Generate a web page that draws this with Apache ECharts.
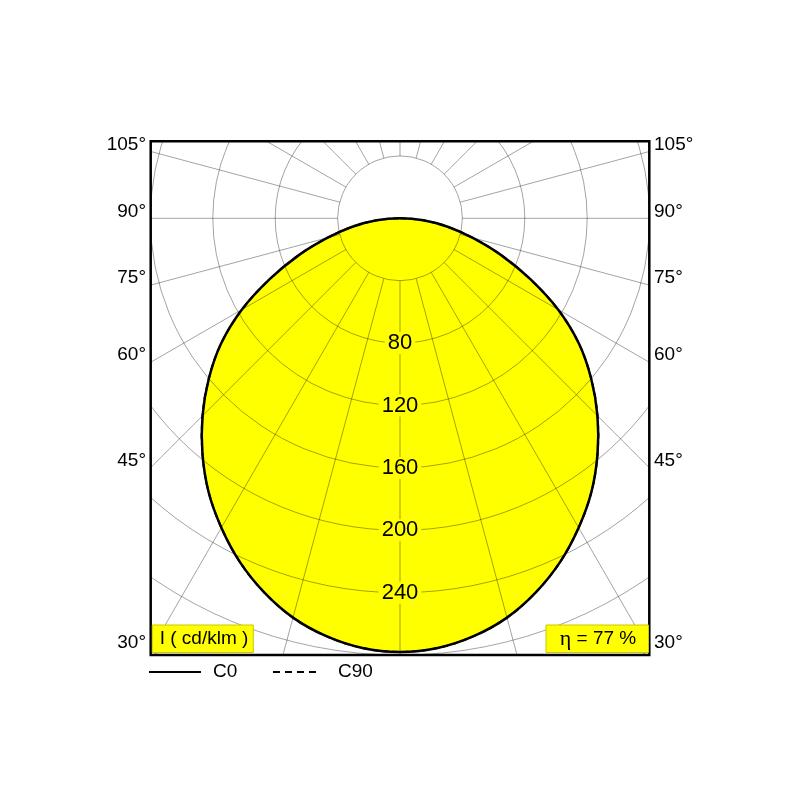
<!DOCTYPE html>
<html>
<head>
<meta charset="utf-8">
<script src="https://cdn.jsdelivr.net/npm/echarts@6/dist/echarts.min.js"></script>
<style>
html,body{margin:0;padding:0;background:#fff;}
#chart{width:800px;height:800px;}
</style>
</head>
<body>
<div id="chart"></div>
<script>
// ---- data (photometric angles from nadir, intensities in cd/klm) ----
const halfAngles = [0, 5, 10, 15, 20, 25, 30, 35, 40, 45, 50, 55, 60, 65, 70, 75, 80, 85, 90];
const c0Values  = [278, 276.5, 272, 265, 255, 243, 229, 214, 197, 179, 160, 140, 117, 92, 69, 48, 31, 15, 0];
const c90Values = [278, 276.5, 272, 265, 255, 243, 229, 214, 197, 179, 160, 140, 117, 92, 69, 48, 31, 15, 0];
const ringLabels = [80, 120, 160, 200, 240];
const edgeAngleTicks = [105, 90, 75, 60, 45, 30];
const legendNames = ['C0', 'C90'];
const unitLabel = 'I ( cd/klm )';
const efficiency = 77;

// ---- layout ----
const FONT = '"Liberation Sans", Arial, sans-serif';
const cx = 400, cy = 218.3;
const pxPerUnit = 1.56;
const rMax = 400;
const box = {l: 150.7, t: 141.2, r: 649.3, b: 655};
const gridColor = 'rgba(0,0,0,0.36)';

function mirrored(vals) {
  const out = [];
  for (let i = halfAngles.length - 1; i > 0; i--) out.push([vals[i], -halfAngles[i]]);
  for (let i = 0; i < halfAngles.length; i++) out.push([vals[i], halfAngles[i]]);
  return out;
}

// draws the whole closed curve once, converting each [intensity, angle] through the polar axes
function curveRenderer(data, style) {
  return function (params, api) {
    if (params.dataIndex !== 0) return null;
    const pts = data.map(d => api.coord(d));
    const a = pts[0], b = pts[pts.length - 1];
    if (Math.abs(a[0] - b[0]) < 0.01 && Math.abs(a[1] - b[1]) < 0.01) pts.pop();
    return {type: 'polygon', shape: {points: pts, smooth: 0.35}, style: style, silent: true};
  };
}

const c0Data = mirrored(c0Values);
const c90Data = mirrored(c90Values);

const chart = echarts.init(document.getElementById('chart'), null, {renderer: 'canvas'});

const graphics = [];
// masks outside the frame
[[0, 0, 800, box.t], [0, box.b, 800, 800 - box.b], [0, 0, box.l, 800], [box.r, 0, 800 - box.r, 800]]
  .forEach(r => graphics.push({type: 'rect', z: 100, shape: {x: r[0], y: r[1], width: r[2], height: r[3]}, style: {fill: '#fff'}}));
// frame
graphics.push({type: 'rect', z: 101, shape: {x: box.l, y: box.t, width: box.r - box.l, height: box.b - box.t},
  style: {fill: null, stroke: '#000', lineWidth: 2.5}});
// angle labels at frame edges
edgeAngleTicks.forEach(a => {
  const t = Math.tan(a * Math.PI / 180);
  const yl = cy + (cx - box.l) / t - 7;
  const yr = cy + (box.r - cx) / t - 7;
  graphics.push({type: 'text', z: 102, x: 146, y: yl, style: {text: a + '°', fontSize: 19, fontFamily: FONT, fill: '#000', align: 'right', verticalAlign: 'middle'}});
  graphics.push({type: 'text', z: 102, x: 654, y: yr, style: {text: a + '°', fontSize: 19, fontFamily: FONT, fill: '#000', align: 'left', verticalAlign: 'middle'}});
});
// yellow info boxes
graphics.push({type: 'rect', z: 102, shape: {x: 152.3, y: 625, width: 101, height: 27.5}, style: {fill: '#ffff00', stroke: '#c8c800', lineWidth: 1}});
graphics.push({type: 'text', z: 103, x: 204, y: 639, style: {text: unitLabel, fontSize: 19, fontFamily: FONT, fill: '#000', align: 'center', verticalAlign: 'middle'}});
graphics.push({type: 'rect', z: 102, shape: {x: 546, y: 625, width: 102.5, height: 27.5}, style: {fill: '#ffff00', stroke: '#c8c800', lineWidth: 1}});
graphics.push({type: 'text', z: 103, x: 598, y: 639, style: {
  text: '{e|η} = ' + efficiency + ' %', fontSize: 19, fontFamily: FONT, fill: '#000', align: 'center', verticalAlign: 'middle',
  rich: {e: {fontSize: 22, fontFamily: '"Liberation Serif", "Times New Roman", serif', fill: '#000'}}}});
// legend
graphics.push({type: 'line', z: 102, shape: {x1: 149, y1: 672, x2: 201, y2: 672}, style: {stroke: '#000', lineWidth: 2}});
graphics.push({type: 'text', z: 102, x: 213, y: 672, style: {text: legendNames[0], fontSize: 19, fontFamily: FONT, fill: '#000', align: 'left', verticalAlign: 'middle'}});
graphics.push({type: 'line', z: 102, shape: {x1: 273, y1: 672, x2: 318, y2: 672}, style: {stroke: '#000', lineWidth: 2, lineDash: [7, 5]}});
graphics.push({type: 'text', z: 102, x: 338, y: 672, style: {text: legendNames[1], fontSize: 19, fontFamily: FONT, fill: '#000', align: 'left', verticalAlign: 'middle'}});

const option = {
  animation: false,
  backgroundColor: '#fff',
  polar: [
    {center: [cx, cy], radius: [40 * pxPerUnit, rMax * pxPerUnit]},
    {center: [cx, cy], radius: [0, rMax * pxPerUnit]}
  ],
  angleAxis: [
    {polarIndex: 0, type: 'value', min: -180, max: 180, interval: 15, startAngle: 90, clockwise: true, z: 5,
      axisLine: {show: false}, axisTick: {show: false}, axisLabel: {show: false},
      splitLine: {show: true, lineStyle: {color: gridColor, width: 1}}},
    {polarIndex: 1, type: 'value', min: -180, max: 180, interval: 15, startAngle: 90, clockwise: true,
      axisLine: {show: false}, axisTick: {show: false}, axisLabel: {show: false}, splitLine: {show: false}}
  ],
  radiusAxis: [
    {polarIndex: 0, type: 'value', min: 40, max: rMax, interval: 40, z: 5,
      axisLine: {show: false}, axisTick: {show: false}, axisLabel: {show: false},
      splitLine: {show: true, lineStyle: {color: gridColor, width: 1}}},
    {polarIndex: 1, type: 'value', min: 0, max: rMax, interval: 40,
      axisLine: {show: false}, axisTick: {show: false}, axisLabel: {show: false}, splitLine: {show: false}}
  ],
  series: [
    // C0 fill (below the grid lines)
    {name: legendNames[0] + ' fill', type: 'custom', coordinateSystem: 'polar', polarIndex: 1, z: 2,
      encode: {radius: 0, angle: 1}, data: c0Data,
      renderItem: curveRenderer(c0Data, {fill: '#ffff00', stroke: null})},
    // C0 outline (above the grid lines)
    {name: legendNames[0], type: 'custom', coordinateSystem: 'polar', polarIndex: 1, z: 6,
      encode: {radius: 0, angle: 1}, data: c0Data,
      renderItem: curveRenderer(c0Data, {fill: null, stroke: '#000', lineWidth: 2.5, lineJoin: 'round'})},
    // C90 dashed
    {name: legendNames[1], type: 'custom', coordinateSystem: 'polar', polarIndex: 1, z: 7,
      encode: {radius: 0, angle: 1}, data: c90Data,
      renderItem: curveRenderer(c90Data, {fill: null, stroke: '#000', lineWidth: 2, lineDash: [6, 4]})},
    {name: 'ring labels', type: 'scatter', coordinateSystem: 'polar', polarIndex: 1, z: 8,
      data: ringLabels.map(v => [v, 0]), symbolSize: 1, itemStyle: {color: 'rgba(0,0,0,0)'},
      emphasis: {disabled: true},
      label: {show: true, position: 'inside', formatter: p => String(p.value[0]), fontSize: 22, fontFamily: FONT,
        color: '#000000', opacity: 1, textBorderWidth: 0, backgroundColor: '#ffff00', padding: [0, 3]}}
  ],
  graphic: graphics
};
chart.setOption(option);
</script>
</body>
</html>
